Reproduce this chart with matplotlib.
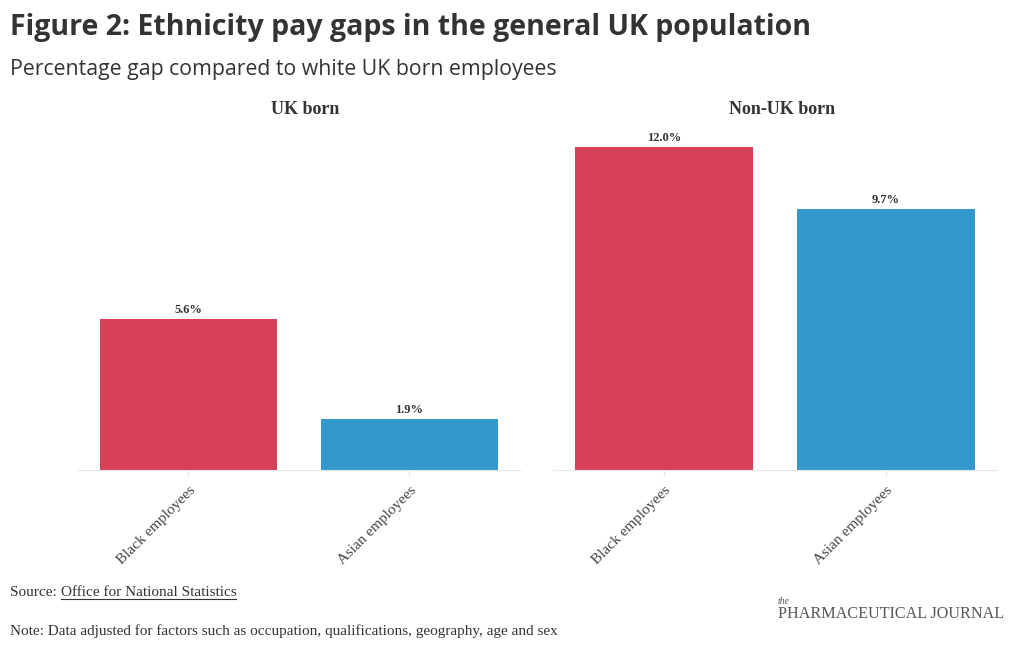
import matplotlib.pyplot as plt

# data
categories = ["Black employees", "Asian employees"]
uk_born = [5.6, 1.9]
non_uk_born = [12.0, 9.7]
panel_titles = ["UK born", "Non-UK born"]
colors = ["#d64157", "#3399cc"]

W, H = 1020, 650
fig = plt.figure(figsize=(W / 100, H / 100), dpi=100)

def box(x0, y0, x1, y1):
    # pixel box -> figure fraction
    return [x0 / W, 1 - y1 / H, (x1 - x0) / W, (y1 - y0) / H]

ax1 = fig.add_axes(box(78, 125, 520, 470))
ax2 = fig.add_axes(box(553, 125, 997, 470))

serif = ["Liberation Serif", "DejaVu Serif"]
ymax = (470 - 125) / 26.9

for ax, vals, title in zip([ax1, ax2], [uk_born, non_uk_born], panel_titles):
    x = range(len(categories))
    bars = ax.bar(x, vals, width=0.8, color=colors)
    for b, v in zip(bars, vals):
        ax.text(b.get_x() + b.get_width() / 2, v + 0.12, f"{v:.1f}%",
                ha="center", va="bottom", fontsize=9, fontweight="bold",
                family=serif, color="#333333")
    ax.set_xlim(-0.5, 1.5)
    ax.set_ylim(0, ymax)
    ax.set_xticks(list(x))
    ax.set_xticklabels(categories, rotation=45, ha="right", rotation_mode="anchor",
                       fontsize=11, family=serif, color="#444444")
    ax.tick_params(axis="x", length=4, color="#e6e6e6", pad=6)
    ax.set_yticks([])
    for s in ["top", "right", "left"]:
        ax.spines[s].set_visible(False)
    ax.spines["bottom"].set_color("#e6e6e6")
    ax.set_title(title, fontsize=13, fontweight="bold", family=serif,
                 color="#333333", pad=8, x=0.515)

fig.text(10 / W, 1 - 28 / H, "Figure 2: Ethnicity pay gaps in the general UK population",
         fontsize=20.5, fontweight="bold", family=["Open Sans", "DejaVu Sans"],
         color="#333333", va="center", ha="left")
fig.text(10 / W, 1 - 70 / H, "Percentage gap compared to white UK born employees",
         fontsize=15.3, family=["Open Sans", "DejaVu Sans"], color="#333333",
         va="center", ha="left")

src = fig.text(10 / W, 1 - 593 / H, "Source: ", fontsize=11, family=serif,
               color="#333333", va="center", ha="left")
fig.canvas.draw()
bb = src.get_window_extent()
link = fig.text(bb.x1 / W, 1 - 593 / H, "Office for National Statistics", fontsize=11,
                family=serif, color="#333333", va="center", ha="left")
fig.canvas.draw()
lb = link.get_window_extent()
fig.add_artist(plt.Line2D([lb.x0 / W, lb.x1 / W], [(lb.y0 + 1) / H, (lb.y0 + 1) / H],
                          color="#333333", lw=0.8))

fig.text(10 / W, 1 - 631 / H,
         "Note: Data adjusted for factors such as occupation, qualifications, geography, age and sex",
         fontsize=11, family=serif, color="#333333", va="center", ha="left")

fig.text(778 / W, 1 - 602 / H, "the", fontsize=7, style="italic", family=serif,
         color="#555555", va="center", ha="left")
fig.text(778 / W, 1 - 614 / H, "PHARMACEUTICAL JOURNAL", fontsize=11.6, family=serif,
         color="#555555", va="center", ha="left")

fig.savefig("out.png", dpi=100)
